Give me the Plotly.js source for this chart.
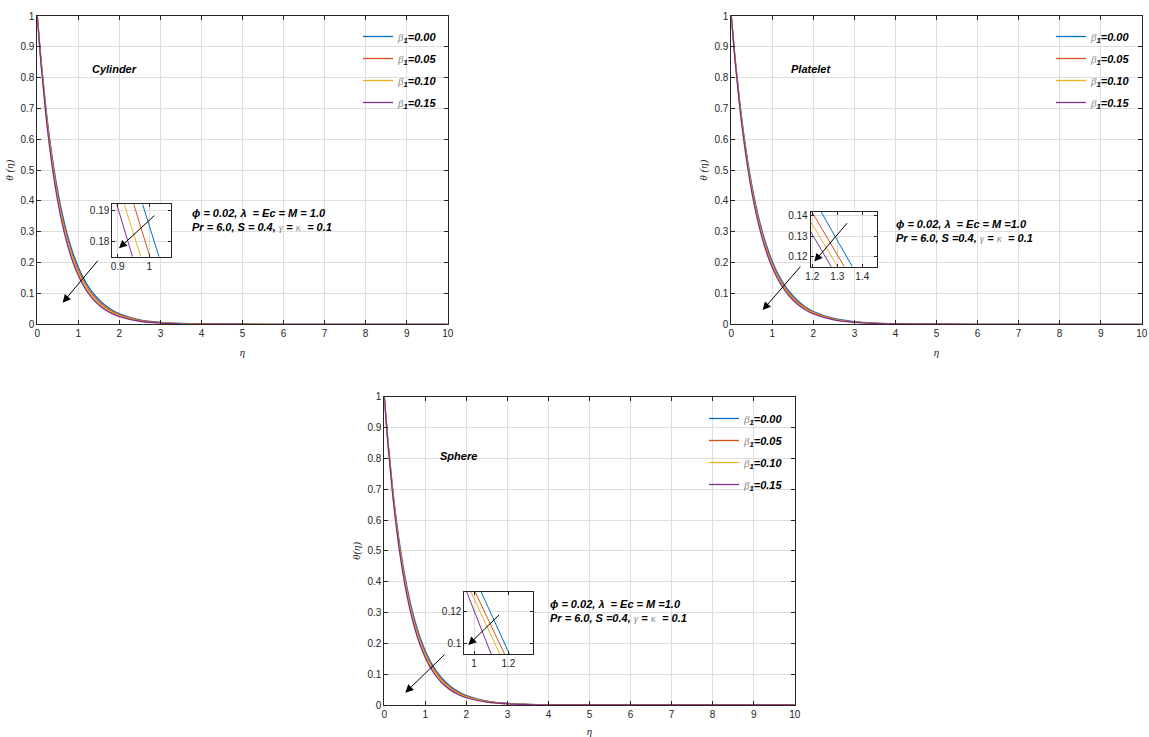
<!DOCTYPE html>
<html>
<head>
<meta charset="utf-8">
<script src="https://cdn.plot.ly/plotly-3.0.1.min.js"></script>
<style>
body { margin: 0; background: #fff; }
#graph { width: 1149px; height: 737px; }
</style>
</head>
<body>
<div id="graph"></div>
<script>
// eta grid shared by all curves
var eta = [0, 0.1, 0.2, 0.3, 0.4, 0.5, 0.6, 0.7, 0.8, 0.9, 1.0, 1.1, 1.2, 1.3, 1.4, 1.6, 1.8, 2.0, 2.5, 3.0, 3.5, 4.0, 5.0, 6.0, 8.0, 10.0];

// Cylinder, beta1 = 0.00, 0.05, 0.10, 0.15
var cylB = [1, 0.8448, 0.7137, 0.6029, 0.5093, 0.4302, 0.3634, 0.3070, 0.2593, 0.2191, 0.1851, 0.1563, 0.1321, 0.1116, 0.0943, 0.0672, 0.0480, 0.0343, 0.0147, 0.0063, 0.0027, 0.0012, 0.0002, 0.00004, 0, 0];
var cylO = [1, 0.8401, 0.7057, 0.5928, 0.4980, 0.4184, 0.3514, 0.2952, 0.2480, 0.2083, 0.1750, 0.1470, 0.1235, 0.1037, 0.0872, 0.0615, 0.0434, 0.0306, 0.0128, 0.0054, 0.0022, 0.0009, 0.0002, 0.00003, 0, 0];
var cylY = [1, 0.8356, 0.6983, 0.5834, 0.4876, 0.4074, 0.3404, 0.2845, 0.2377, 0.1986, 0.1660, 0.1387, 0.1159, 0.0968, 0.0809, 0.0565, 0.0395, 0.0275, 0.0112, 0.0046, 0.0019, 0.0008, 0.0001, 0.00002, 0, 0];
var cylP = [1, 0.8315, 0.6914, 0.5749, 0.4781, 0.3975, 0.3305, 0.2749, 0.2285, 0.1900, 0.1580, 0.1314, 0.1093, 0.0908, 0.0756, 0.0523, 0.0361, 0.0250, 0.0099, 0.0039, 0.0016, 0.0006, 0.0001, 0.00002, 0, 0];

// Platelet
var plaB = [1, 0.8530, 0.7276, 0.6207, 0.5294, 0.4516, 0.3852, 0.3286, 0.2803, 0.2391, 0.2039, 0.1740, 0.1484, 0.1266, 0.1080, 0.0786, 0.0571, 0.0416, 0.0188, 0.0085, 0.0038, 0.0017, 0.0004, 0.00007, 0, 0];
var plaO = [1, 0.8497, 0.7220, 0.6136, 0.5214, 0.4431, 0.3765, 0.3199, 0.2718, 0.2310, 0.1963, 0.1669, 0.1418, 0.1205, 0.1024, 0.0739, 0.0534, 0.0385, 0.0171, 0.0076, 0.0034, 0.0015, 0.0003, 0.00006, 0, 0];
var plaY = [1, 0.8469, 0.7173, 0.6075, 0.5146, 0.4358, 0.3691, 0.3127, 0.2648, 0.2242, 0.1899, 0.1609, 0.1362, 0.1154, 0.0977, 0.0701, 0.0503, 0.0361, 0.0157, 0.0069, 0.0030, 0.0013, 0.0003, 0.00005, 0, 0];
var plaP = [1, 0.8442, 0.7127, 0.6015, 0.5078, 0.4287, 0.3619, 0.3055, 0.2579, 0.2177, 0.1838, 0.1552, 0.1309, 0.1106, 0.0933, 0.0665, 0.0474, 0.0338, 0.0145, 0.0062, 0.0027, 0.0011, 0.0002, 0.00004, 0, 0];

// Sphere
var sphB = [1, 0.8403, 0.7061, 0.5933, 0.4986, 0.4190, 0.3521, 0.2958, 0.2486, 0.2089, 0.1755, 0.1475, 0.1239, 0.1041, 0.0875, 0.0618, 0.0436, 0.0308, 0.0129, 0.0054, 0.0023, 0.0010, 0.0002, 0.00003, 0, 0];
var sphO = [1, 0.8365, 0.6998, 0.5853, 0.4896, 0.4097, 0.3427, 0.2866, 0.2398, 0.2006, 0.1678, 0.1403, 0.1174, 0.0982, 0.0822, 0.0575, 0.0402, 0.0282, 0.0115, 0.0047, 0.0019, 0.0008, 0.0001, 0.00002, 0, 0];
var sphY = [1, 0.8328, 0.6935, 0.5775, 0.4809, 0.4005, 0.3335, 0.2777, 0.2313, 0.1926, 0.1604, 0.1336, 0.1112, 0.0927, 0.0771, 0.0535, 0.0371, 0.0257, 0.0103, 0.0041, 0.0017, 0.0007, 0.0001, 0.00002, 0, 0];
var sphP = [1, 0.8290, 0.6873, 0.5698, 0.4724, 0.3916, 0.3247, 0.2691, 0.2231, 0.1850, 0.1534, 0.1271, 0.1054, 0.0874, 0.0724, 0.0498, 0.0342, 0.0235, 0.0092, 0.0036, 0.0014, 0.0006, 0.0001, 0.00001, 0, 0];

// zoomed insets: each line read as start (x0,y0) and end (x1,y1), order B, O, Y, P
var cylInX0 = [0.979, 0.951, 0.921, 0.897];
var cylInY0 = [0.1921, 0.1921, 0.1921, 0.1921];
var cylInX1 = [1.031, 1.002, 0.973, 0.947];
var cylInY1 = [0.1752, 0.1752, 0.1752, 0.1752];

var plaInX0 = [1.235, 1.198, 1.1936, 1.1936];
var plaInY0 = [0.1420, 0.1420, 0.1371, 0.1322];
var plaInX1 = [1.360, 1.328, 1.3016, 1.276];
var plaInY1 = [0.1151, 0.1151, 0.1151, 0.1151];

var sphInX0 = [1.041, 1.006, 0.981, 0.957];
var sphInY0 = [0.1327, 0.1327, 0.1327, 0.1327];
var sphInX1 = [1.206, 1.178, 1.150, 1.100];
var sphInY1 = [0.0932, 0.0932, 0.0932, 0.0932];

var betaVals = ['0.00', '0.05', '0.10', '0.15'];
var colors = ['#0072BD', '#D95319', '#EDB120', '#7E2F8E'];

var W = 1149, H = 737;
function px(x) { return x / W; }
function py(y) { return 1 - y / H; }

var gk = '<span style="font-family:Liberation Serif;font-weight:normal;color:#8a8a8a">';

function betaName(v) {
    return gk + 'β</span><sub>1</sub>=' + v;
}

var data = [];

function addMain(series, xa, ya, leg) {
    for (var i = 0; i < series.length; i++) {
        data.push({
            x: eta, y: series[i],
            xaxis: xa, yaxis: ya,
            type: 'scatter', mode: 'lines',
            line: {color: colors[i], width: 1.3, shape: 'spline'},
            name: betaName(betaVals[i]),
            legend: leg,
            legendgroup: leg + i,
            hoverinfo: 'skip'
        });
    }
}

function addInset(x0, y0, x1, y1, xa, ya) {
    for (var i = 0; i < x0.length; i++) {
        data.push({
            x: [x0[i], x1[i]], y: [y0[i], y1[i]],
            xaxis: xa, yaxis: ya,
            type: 'scatter', mode: 'lines',
            line: {color: colors[i], width: 1},
            showlegend: false,
            hoverinfo: 'skip'
        });
    }
}

addMain([cylB, cylO, cylY, cylP], 'x', 'y', 'legend');
addInset(cylInX0, cylInY0, cylInX1, cylInY1, 'x2', 'y2');
addMain([plaB, plaO, plaY, plaP], 'x3', 'y3', 'legend2');
addInset(plaInX0, plaInY0, plaInX1, plaInY1, 'x4', 'y4');
addMain([sphB, sphO, sphY, sphP], 'x5', 'y5', 'legend3');
addInset(sphInX0, sphInY0, sphInX1, sphInY1, 'x6', 'y6');

var tickFont = {family: 'Liberation Sans, Arial', size: 10, color: '#262626'};
var titleFont = {family: 'Liberation Serif, Times New Roman', size: 11, color: '#262626', style: 'italic'};

function mainX(domain, anchor) {
    return {
        domain: domain, anchor: anchor, range: [0, 10], dtick: 1,
        showline: true, mirror: 'ticks', linecolor: '#262626', linewidth: 1,
        ticks: 'inside', ticklen: 4, tickcolor: '#262626',
        showgrid: true, gridcolor: '#dedede', gridwidth: 1, zeroline: false,
        tickfont: tickFont,
        title: {text: 'η', font: titleFont, standoff: 10}
    };
}
function mainY(domain, anchor, label) {
    return {
        domain: domain, anchor: anchor, range: [0, 1], dtick: 0.1,
        showline: true, mirror: 'ticks', linecolor: '#262626', linewidth: 1,
        ticks: 'inside', ticklen: 4, tickcolor: '#262626',
        showgrid: true, gridcolor: '#dedede', gridwidth: 1, zeroline: false,
        tickfont: tickFont,
        title: {text: label, font: titleFont, standoff: 4}
    };
}
function insetAx(domain, anchor, range, vals, texts) {
    return {
        domain: domain, anchor: anchor, range: range,
        tickvals: vals, ticktext: texts,
        showline: true, mirror: 'ticks', linecolor: '#262626', linewidth: 1,
        ticks: 'inside', ticklen: 3, tickcolor: '#262626',
        showgrid: true, gridcolor: '#dedede', zeroline: false,
        tickfont: tickFont
    };
}

var topY = [py(324.3), py(16)];
var botY = [py(705), py(396.7)];

var boldItalic = {family: 'Liberation Sans, Arial', size: 11, color: '#000', weight: 'bold', style: 'italic'};

function legendAt(x, y) {
    return {
        x: x, y: y, xanchor: 'left', yanchor: 'top',
        bgcolor: 'rgba(0,0,0,0)', borderwidth: 0,
        font: boldItalic, tracegroupgap: 3
    };
}

function label(text, xr, yr, x, y, anchor) {
    return {text: text, xref: xr, yref: yr, x: x, y: y, showarrow: false,
            xanchor: anchor, yanchor: 'middle', align: 'left', font: boldItalic};
}
function arrow(xr, yr, x, y, ax, ay) {
    return {text: '', xref: xr, yref: yr, axref: xr, ayref: yr,
            x: x, y: y, ax: ax, ay: ay, showarrow: true,
            arrowhead: 2, arrowsize: 1.6, arrowwidth: 1, arrowcolor: '#000', standoff: 0};
}

var line1a = 'ϕ = 0.02, λ  = Ec = M = 1.0';
var line2a = 'Pr = 6.0, S = 0.4, ' + gk + 'γ</span> = ' + gk + 'κ</span>  = 0.1';
var line1b = 'ϕ = 0.02, λ  = Ec = M =1.0';
var line2b = 'Pr = 6.0, S =0.4, ' + gk + 'γ</span> = ' + gk + 'κ</span>  = 0.1';

var layout = {
    width: W, height: H,
    margin: {l: 0, r: 0, t: 0, b: 0},
    paper_bgcolor: '#fff', plot_bgcolor: '#fff',
    showlegend: true,
    xaxis: mainX([px(37.3), px(447.7)], 'y'),
    yaxis: mainY(topY, 'x', '<i>θ</i> (<i>η</i>)'),
    xaxis2: insetAx([px(112.3), px(170.7)], 'y2', [0.883, 1.068], [0.9, 1], ['0.9', '1']),
    yaxis2: insetAx([py(256.7), py(204.3)], 'x2', [0.1752, 0.1921], [0.18, 0.19], ['0.18', '0.19']),
    xaxis3: mainX([px(731.3), px(1141.7)], 'y3'),
    yaxis3: mainY(topY, 'x3', '<i>θ</i> (<i>η</i>)'),
    xaxis4: insetAx([px(810.7), px(876.7)], 'y4', [1.1936, 1.4576], [1.2, 1.3, 1.4], ['1.2', '1.3', '1.4']),
    yaxis4: insetAx([py(266.7), py(211.7)], 'x4', [0.1151, 0.1420], [0.12, 0.13, 0.14], ['0.12', '0.13', '0.14']),
    xaxis5: mainX([px(384.3), px(794.7)], 'y5'),
    yaxis5: mainY(botY, 'x5', '<i>θ</i>(<i>η</i>)'),
    xaxis6: insetAx([px(464.3), px(532.7)], 'y6', [0.9435, 1.342], [1, 1.2], ['1', '1.2']),
    yaxis6: insetAx([py(654), py(591.7)], 'x6', [0.0932, 0.1327], [0.1, 0.12], ['0.1', '0.12']),
    legend: legendAt(px(358), py(22)),
    legend2: legendAt(px(1051), py(22)),
    legend3: legendAt(px(704), py(404)),
    annotations: [
        label('Cylinder', 'x', 'y', 1.89, 0.827, 'center'),
        label(line1a + '<br>' + line2a, 'x', 'y', 3.72, 0.339, 'left'),
        arrow('x', 'y', 0.619, 0.070, 1.503, 0.211),
        arrow('x2', 'y2', 0.9041, 0.1779, 1.021, 0.1889),
        label('Platelet', 'x3', 'y3', 1.93, 0.827, 'center'),
        label(line1b + '<br>' + line2b, 'x3', 'y3', 3.97, 0.3036, 'left'),
        arrow('x3', 'y3', 0.765, 0.046, 1.715, 0.192),
        arrow('x4', 'y4', 1.208, 0.1176, 1.344, 0.1371),
        label('Sphere', 'x5', 'y5', 1.80, 0.808, 'center'),
        label(line1b + '<br>' + line2b, 'x5', 'y5', 4.0, 0.306, 'left'),
        arrow('x5', 'y5', 0.512, 0.040, 1.503, 0.168),
        arrow('x6', 'y6', 0.9668, 0.0989, 1.1555, 0.1190)
    ]
};

Plotly.newPlot('graph', data, layout, {displayModeBar: false, staticPlot: true});
</script>
</body>
</html>
